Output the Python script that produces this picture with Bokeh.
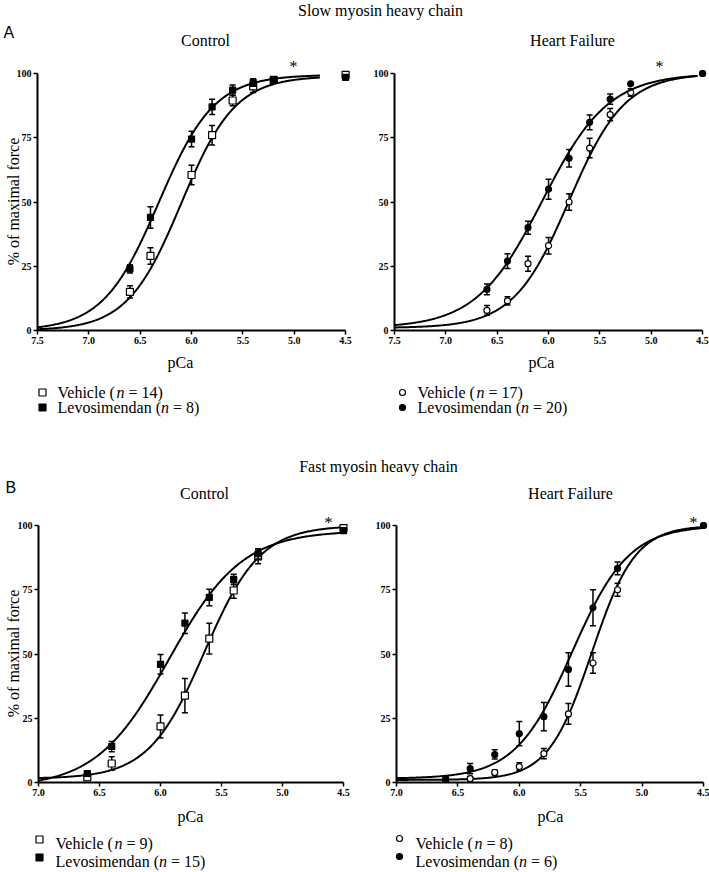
import numpy as np
from bokeh.plotting import figure
from bokeh.models import Range1d, Label, FixedTicker, NumeralTickFormatter, LinearAxis
from bokeh.layouts import column, row
from bokeh.embed import file_html
from bokeh.resources import INLINE

# ---------------- data ----------------
force_ticks = [0, 25, 50, 75, 100]
slow_ticks = [7.5, 7.0, 6.5, 6.0, 5.5, 5.0, 4.5]
fast_ticks = [7.0, 6.5, 6.0, 5.5, 5.0, 4.5]

# Slow myosin heavy chain - Control
slow_ctrl_pca = [6.6, 6.4, 6.0, 5.8, 5.6, 5.4, 5.2, 4.5]
slow_ctrl_veh = [15, 29, 60.5, 76, 89.5, 95, 97.5, 99.5]
slow_ctrl_veh_sem = [2.4, 3.2, 3.8, 3.8, 2.0, 2.4, 1.0, 0.8]
slow_ctrl_lev = [24, 44, 74.5, 87, 93.5, 96.5, 97.5, 98.5]
slow_ctrl_lev_sem = [1.6, 4.2, 3.0, 3.0, 2.0, 1.5, 0.8, 0.8]
slow_ctrl_n = [14, 8]

# Slow myosin heavy chain - Heart failure
slow_hf_pca = [6.6, 6.4, 6.2, 6.0, 5.8, 5.6, 5.4, 5.2, 4.5]
slow_hf_veh = [7.8, 11.5, 26, 33, 50, 71, 84, 92.6, 100]
slow_hf_veh_sem = [1.9, 1.6, 2.9, 3.2, 3.2, 3.8, 2.4, 1.5, 0]
slow_hf_lev = [16, 27, 40, 55, 67, 81, 90, 96, 100]
slow_hf_lev_sem = [2.1, 2.9, 2.5, 3.9, 3.4, 2.9, 2.0, 0.5, 0]
slow_hf_n = [17, 20]

# Fast myosin heavy chain - Control
fast_ctrl_pca = [6.6, 6.4, 6.0, 5.8, 5.6, 5.4, 5.2, 4.5]
fast_ctrl_veh = [2, 7.4, 21.8, 33.8, 56, 74.7, 88, 99]
fast_ctrl_veh_sem = [1.0, 2.6, 4.5, 6.7, 6.0, 3.0, 2.9, 1.0]
fast_ctrl_lev = [3.5, 14, 46, 62, 72, 79, 89, 98]
fast_ctrl_lev_sem = [1.0, 2.0, 3.8, 4.0, 3.2, 2.0, 2.0, 1.0]
fast_ctrl_n = [9, 15]

# Fast myosin heavy chain - Heart failure
fast_hf_pca = [6.6, 6.4, 6.2, 6.0, 5.8, 5.6, 5.4, 5.2, 4.5]
fast_hf_veh = [0.5, 1.5, 3.9, 6.2, 11.2, 26.7, 46.5, 75, 100]
fast_hf_veh_sem = [0.5, 0.8, 1.0, 1.5, 2.0, 4.0, 4.0, 2.5, 0]
fast_hf_lev = [1.5, 5.4, 10.9, 19, 25.6, 44, 68, 83.3, 100]
fast_hf_lev_sem = [0.8, 2.0, 1.8, 4.7, 5.5, 6.5, 7.0, 2.5, 0]
fast_hf_n = [8, 6]

# Fitted Hill curves: [bottom, top, pCa50, Hill coefficient]
slow_ctrl_veh_fit = [0, 99, 6.10, 1.65]
slow_ctrl_lev_fit = [0, 99.5, 6.32, 1.6]
slow_hf_veh_fit = [1, 100, 5.80, 1.6]
slow_hf_lev_fit = [1, 100, 6.06, 1.35]
fast_ctrl_veh_fit = [1.5, 100, 5.64, 1.9]
fast_ctrl_lev_fit = [-2, 98, 5.93, 1.45]
fast_hf_veh_fit = [1, 100, 5.41, 2.45]
fast_hf_lev_fit = [1.5, 100, 5.57, 1.88]

# ---------------- styling ----------------
SERIF = "Liberation Serif"
SANS = "Liberation Sans"
TICKFONT = "Liberation Sans Narrow"
PAGE_W, PAGE_H = 709, 872


def hill(xs, fit):
    b, t, c50, n = fit
    return b + (t - b) / (1.0 + 10 ** (n * (xs - c50)))


def make_panel(cfg):
    W, H = cfg["W"], cfg["H"]
    wl, wt = cfg["win_left"], cfg["win_top"]
    fl, fw, x0, kx = cfg["fl"], cfg["fw"], cfg["x0"], cfg["kx"]
    y0w, fh, ky = cfg["y0w"], cfg["fh"], cfg["ky"]
    ft = y0w - fh
    bl = fl - wl
    br = W - bl - fw
    bt = ft - wt
    bb = H - bt - fh
    xend = x0 - fw / kx
    ymax = fh / ky
    p = figure(width=W, height=H, x_range=Range1d(x0, xend), y_range=Range1d(0, ymax),
               x_axis_type=None, y_axis_type=None, output_backend="svg",
               toolbar_location=None, min_border_left=bl, min_border_right=br,
               min_border_top=bt, min_border_bottom=bb, outline_line_color=None,
               background_fill_color=None, border_fill_color=None)

    xt = cfg["xticks"]
    xa = LinearAxis(ticker=FixedTicker(ticks=xt), formatter=NumeralTickFormatter(format="0.0"),
                    bounds=(min(xt), max(xt)))
    ya = LinearAxis(ticker=FixedTicker(ticks=force_ticks), bounds=(0, 100))
    for a in (xa, ya):
        a.axis_line_width = 2
        a.axis_line_color = "black"
        a.major_tick_line_width = 1.5
        a.major_tick_line_color = "black"
        a.major_tick_out = 4
        a.major_tick_in = 0
        a.minor_tick_line_color = None
        a.major_label_text_font = TICKFONT
        a.major_label_text_font_size = "10px"
        a.major_label_text_font_style = "bold"
        a.major_label_text_color = "black"
        a.major_label_standoff = 2
    p.add_layout(xa, "below")
    p.add_layout(ya, "left")

    xs = np.linspace(x0, cfg["curve_end"], 300)
    for s in cfg["series"]:
        pca, vals, sem, fit, marker, filled, size = s
        p.line(xs, hill(xs, fit), line_color="black", line_width=2)
        x = np.array(pca, dtype=float)
        v = np.array(vals, dtype=float)
        e = np.array(sem, dtype=float)
        p.segment(x0=x, y0=v - e, x1=x, y1=v + e, line_color="black", line_width=1.5)
        p.scatter(x, v + e, marker="dash", size=6, line_color="black", line_width=1.5)
        p.scatter(x, v - e, marker="dash", size=6, line_color="black", line_width=1.5)
        p.scatter(x, v, marker=marker, size=size, fill_color="black" if filled else "white",
                  line_color="black", line_width=1.2)
    return p


# ---------------- panels ----------------
A1 = make_panel(dict(W=355, H=446, win_left=0, win_top=0, fl=37, fw=315, x0=7.5, kx=102.7,
                     y0w=330, fh=272, ky=2.57, xticks=slow_ticks, curve_end=4.75,
                     series=[(slow_ctrl_pca, slow_ctrl_veh, slow_ctrl_veh_sem, slow_ctrl_veh_fit, "square", False, 7),
                             (slow_ctrl_pca, slow_ctrl_lev, slow_ctrl_lev_sem, slow_ctrl_lev_fit, "square", True, 6)]))
A2 = make_panel(dict(W=354, H=446, win_left=355, win_top=0, fl=394, fw=314, x0=7.5, kx=102.7,
                     y0w=330, fh=272, ky=2.57, xticks=slow_ticks, curve_end=4.55,
                     series=[(slow_hf_pca, slow_hf_veh, slow_hf_veh_sem, slow_hf_veh_fit, "circle", False, 6),
                             (slow_hf_pca, slow_hf_lev, slow_hf_lev_sem, slow_hf_lev_fit, "circle", True, 6)]))
B1 = make_panel(dict(W=355, H=426, win_left=0, win_top=446, fl=38, fw=312, x0=7.0, kx=122,
                     y0w=782, fh=272, ky=2.57, xticks=fast_ticks, curve_end=4.5,
                     series=[(fast_ctrl_pca, fast_ctrl_veh, fast_ctrl_veh_sem, fast_ctrl_veh_fit, "square", False, 7),
                             (fast_ctrl_pca, fast_ctrl_lev, fast_ctrl_lev_sem, fast_ctrl_lev_fit, "square", True, 6)]))
B2 = make_panel(dict(W=354, H=426, win_left=355, win_top=446, fl=396, fw=312, x0=7.0, kx=122.8,
                     y0w=782, fh=272, ky=2.57, xticks=fast_ticks, curve_end=4.5,
                     series=[(fast_hf_pca, fast_hf_veh, fast_hf_veh_sem, fast_hf_veh_fit, "circle", False, 6),
                             (fast_hf_pca, fast_hf_lev, fast_hf_lev_sem, fast_hf_lev_fit, "circle", True, 6)]))

# ---------------- text overlay (page pixel coordinates) ----------------
T = figure(width=PAGE_W, height=PAGE_H, x_range=Range1d(0, PAGE_W), y_range=Range1d(PAGE_H, 0),
           x_axis_type=None, y_axis_type=None, min_border=0, output_backend="svg",
           toolbar_location=None, outline_line_color=None,
           background_fill_color=None, border_fill_color=None, margin=(-PAGE_H, 0, 0, 0))


def text(x, y, s, size="16px", font=SERIF, style="normal", align="left", angle=0.0):
    T.add_layout(Label(x=x, y=y, text=s, text_font=font, text_font_size=size,
                       text_font_style=style, text_align=align, text_baseline="middle",
                       angle=angle, text_color="black"))


def legend(mx, tx0, ys, moff, marker, sizes, nvals):
    names = ["Vehicle (", "Levosimendan ("]
    widths = [59.1, 103.5]
    T.scatter([mx, mx], [ys[0] + moff, ys[1] + moff], marker=marker, size=sizes,
              fill_color=["white", "black"], line_color="black", line_width=1.2)
    for name, w1, nv, yy in zip(names, widths, nvals, ys):
        text(tx0, yy, name)
        text(tx0 + w1, yy, "n", style="italic")
        text(tx0 + w1 + 12.0, yy, "= %d)" % nv)


# section headings
text(380, 10, "Slow myosin heavy chain", align="center")
text(378, 466, "Fast myosin heavy chain", align="center")
# panel titles
text(205, 40, "Control", align="center")
text(572, 40, "Heart Failure", align="center")
text(204, 493, "Control", align="center")
text(570, 493, "Heart Failure", align="center")
# axis labels
text(180, 362, "pCa", align="center")
text(541, 362, "pCa", align="center")
text(190, 816, "pCa", align="center")
text(550, 816, "pCa", align="center")
# significance marks
text(293, 66, "*", align="center")
text(659, 66, "*", align="center")
text(328, 522, "*", align="center")
text(693, 522, "*", align="center")
# legends
legend(42, 57, [392, 407], 0, "square", 7, slow_ctrl_n)
legend(402, 417, [392, 407], 0, "circle", 6, slow_hf_n)
legend(39, 55, [843, 861], -4, "square", 7, fast_ctrl_n)
legend(399, 415, [843, 861], -5, "circle", 6, fast_hf_n)
# rotated y-axis labels
text(13, 201, "% of maximal force", align="center", angle=np.pi / 2)
text(13, 653, "% of maximal force", align="center", angle=np.pi / 2)
# panel letters (sans-serif, drawn last)
text(3, 32, "A", font=SANS)
text(5, 487, "B", font=SANS)

layout = column(column(row(A1, A2), row(B1, B2)), T)

with open("out.html", "w") as f:
    f.write(file_html(layout, INLINE))
